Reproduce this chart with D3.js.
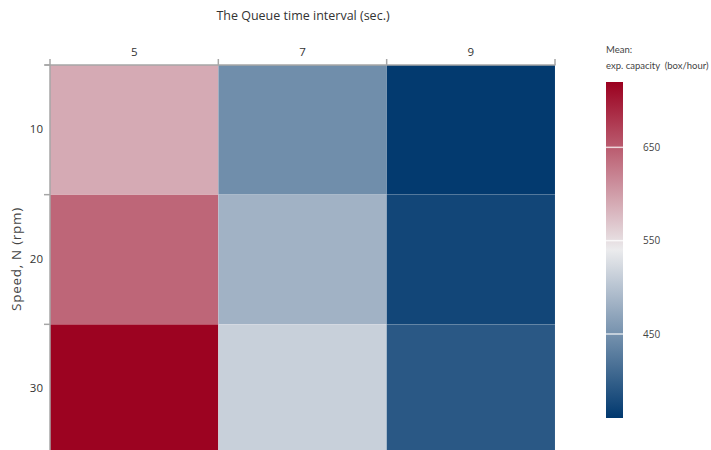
<!DOCTYPE html>
<html>
<head>
<meta charset="utf-8">
<script src="https://cdn.jsdelivr.net/npm/d3@7"></script>
<style>
  html, body { margin: 0; padding: 0; background: #fff; }
  svg { display: block; font-family: "Open Sans", "Noto Sans", sans-serif; }
</style>
</head>
<body>
<svg id="chart" width="711" height="450"></svg>
<script>
// Queue time intervals (columns) and rotation speeds (rows)
const intervals = ["5", "7", "9"];
const speeds = ["10", "20", "30"];

// Mean expected capacity (box/hour), one row per speed, one value per interval
const capacity10 = [590, 446, 362];
const capacity20 = [642, 483, 374];
const capacity30 = [718, 513, 392];

// Colour bar ticks and colour stops (low / mid / high)
const legendTicks = [450, 550, 650];
const colourDomain = [360, 540, 720];
const colourRange = ["#00386e", "#ebebed", "#9b001f"];

const rows = [capacity10, capacity20, capacity30];
const cells = [];
speeds.forEach((s, i) => intervals.forEach((t, j) => cells.push({ speed: s, interval: t, value: rows[i][j] })));

const svg = d3.select("#chart");

const x = d3.scaleBand().domain(intervals).range([50, 555]).padding(0);
const y = d3.scaleBand().domain(speeds).range([65, 454]).padding(0);
const colour = d3.scaleLinear().domain(colourDomain).range(colourRange).interpolate(d3.interpolateRgb);

// Heatmap cells
svg.append("g")
  .selectAll("rect")
  .data(cells)
  .join("rect")
  .attr("x", d => x(d.interval))
  .attr("y", d => y(d.speed))
  .attr("width", x.bandwidth())
  .attr("height", y.bandwidth())
  .attr("fill", d => colour(d.value))
  .attr("stroke", "rgba(255,255,255,0.12)")
  .attr("stroke-width", 0.6);

const axisColour = "#a6a6a6";

// Top axis: ticks at band boundaries, labels centred on bands
const topAxis = svg.append("g");
topAxis.append("line")
  .attr("x1", 45).attr("x2", 555.5).attr("y1", 65).attr("y2", 65)
  .attr("stroke", axisColour).attr("stroke-width", 1.5);
const xEdges = intervals.map(d => x(d)).concat([x.range()[1]]);
topAxis.selectAll("line.tick")
  .data(xEdges)
  .join("line")
  .attr("class", "tick")
  .attr("x1", d => d).attr("x2", d => d)
  .attr("y1", 59).attr("y2", 65)
  .attr("stroke", axisColour).attr("stroke-width", 1.5);
topAxis.selectAll("text")
  .data(intervals)
  .join("text")
  .attr("x", d => x(d) + x.bandwidth() / 2)
  .attr("y", 53)
  .attr("text-anchor", "middle")
  .attr("dominant-baseline", "middle")
  .attr("font-size", 11.5)
  .attr("fill", "#333")
  .text(d => d);

// Left axis
const leftAxis = svg.append("g");
leftAxis.append("line")
  .attr("x1", 50).attr("x2", 50).attr("y1", 65).attr("y2", 454)
  .attr("stroke", axisColour).attr("stroke-width", 1.5);
const yEdges = speeds.map(d => y(d));
leftAxis.selectAll("line.tick")
  .data(yEdges)
  .join("line")
  .attr("class", "tick")
  .attr("x1", 44).attr("x2", 50)
  .attr("y1", d => d).attr("y2", d => d)
  .attr("stroke", axisColour).attr("stroke-width", 1.5);
leftAxis.selectAll("text")
  .data(speeds)
  .join("text")
  .attr("x", 43)
  .attr("y", d => y(d) + y.bandwidth() / 2)
  .attr("text-anchor", "end")
  .attr("dominant-baseline", "middle")
  .attr("font-size", 11.5)
  .attr("fill", "#333")
  .text(d => d);

// Axis titles
svg.append("text")
  .attr("x", 303).attr("y", 17)
  .attr("text-anchor", "middle")
  .attr("dominant-baseline", "middle")
  .attr("font-size", 12.5)
  .attr("fill", "#333")
  .text("The Queue time interval (sec.)");

svg.append("text")
  .attr("transform", "translate(17,259) rotate(-90)")
  .attr("text-anchor", "middle")
  .attr("dominant-baseline", "middle")
  .attr("font-size", 13.5)
  .attr("letter-spacing", 0.7)
  .attr("fill", "#444")
  .text("Speed, N (rpm)");

// Colour bar legend
const barX = 606, barW = 17, barTop = 82, barBottom = 418;
const legendScale = d3.scaleLinear().domain([colourDomain[0], colourDomain[2]]).range([barBottom, barTop]);

const defs = svg.append("defs");
const grad = defs.append("linearGradient")
  .attr("id", "capacity-gradient")
  .attr("x1", 0).attr("y1", 1).attr("x2", 0).attr("y2", 0);
d3.range(0, 1.0001, 0.05).forEach(t => {
  const v = colourDomain[0] + t * (colourDomain[2] - colourDomain[0]);
  grad.append("stop").attr("offset", t).attr("stop-color", colour(v));
});

svg.append("rect")
  .attr("x", barX).attr("y", barTop)
  .attr("width", barW).attr("height", barBottom - barTop)
  .attr("fill", "url(#capacity-gradient)");

svg.append("g")
  .selectAll("line")
  .data(legendTicks)
  .join("line")
  .attr("x1", barX).attr("x2", barX + barW)
  .attr("y1", d => legendScale(d)).attr("y2", d => legendScale(d))
  .attr("stroke", "rgba(255,255,255,0.75)")
  .attr("stroke-width", 1.5);

svg.append("g")
  .selectAll("text")
  .data(legendTicks)
  .join("text")
  .attr("x", 643)
  .attr("y", d => legendScale(d) + 1)
  .attr("dominant-baseline", "middle")
  .attr("font-size", 10)
  .attr("fill", "#444")
  .text(d => d);

// Legend title in a narrower face so it fits the right margin
const legendTitle = svg.append("text")
  .attr("font-family", "Lato, 'Open Sans', sans-serif")
  .attr("font-size", 9.5)
  .attr("fill", "#444")
  .style("white-space", "pre");
legendTitle.append("tspan").attr("x", 606).attr("y", 53).text("Mean:");
legendTitle.append("tspan").attr("x", 606).attr("y", 69).text("exp. capacity  (box/hour)");
</script>
</body>
</html>
